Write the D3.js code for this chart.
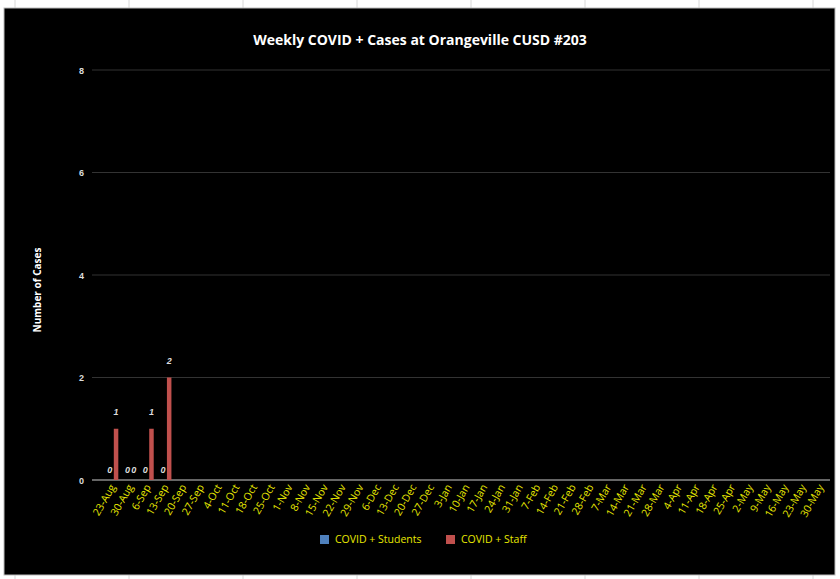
<!DOCTYPE html><html><head><script src="https://cdn.jsdelivr.net/npm/d3@7"></script>
<style>body{margin:0;background:#fff;}</style></head><body><svg id="c" width="840" height="579"></svg>
<script>
const categories=["23-Aug","30-Aug","6-Sep","13-Sep","20-Sep","27-Sep","4-Oct","11-Oct","18-Oct","25-Oct","1-Nov","8-Nov","15-Nov","22-Nov","29-Nov","6-Dec","13-Dec","20-Dec","27-Dec","3-Jan","10-Jan","17-Jan","24-Jan","31-Jan","7-Feb","14-Feb","21-Feb","28-Feb","7-Mar","14-Mar","21-Mar","28-Mar","4-Apr","11-Apr","18-Apr","25-Apr","2-May","9-May","16-May","23-May","30-May"];
const students=[0,0,0,0];
const staff=[1,0,1,2];
const yTicks=[0,2,4,6,8];
const svg=d3.select("#c");
svg.append("rect").attr("width",840).attr("height",579).attr("fill","#fff");
for(let x=15;x<840;x+=114)svg.append("line").attr("x1",x).attr("x2",x).attr("y1",0).attr("y2",579).attr("stroke","#d8d8d8");
svg.append("rect").attr("x",4).attr("y",8).attr("width",831).attr("height",567).attr("fill","#000").attr("stroke","#bbb");
const x=d3.scaleBand().domain(categories).range([104,830]);
const y=d3.scaleLinear().domain([0,8]).range([480,70]);
const g=svg.append("g");
yTicks.forEach(t=>{g.append("line").attr("x1",92).attr("x2",830).attr("y1",y(t)).attr("y2",y(t)).attr("stroke",t==0?"#888":"#333").attr("stroke-width",t==0?1.5:1);
g.append("text").attr("x",84).attr("y",y(t)+3.5).attr("text-anchor","end").attr("fill","#ddd").attr("font-size",9).attr("font-family","Liberation Sans").attr("font-weight","bold").text(t);});
const bw=4.5;
const off={s:-3,t:3.2};
function series(vals,key,col){vals.forEach((v,i)=>{const cx=x(categories[i])+x.bandwidth()/2+off[key];
g.append("rect").attr("x",cx-bw/2).attr("width",bw).attr("y",y(v)).attr("height",y(0)-y(v)).attr("fill",col);
g.append("text").attr("x",cx).attr("y",y(v)-(v?14:7)).attr("text-anchor","middle").attr("fill","#ddd").attr("font-size",9).attr("font-style","italic").attr("font-weight","bold").attr("font-family","Liberation Sans").text(v);});}
series(students,"s","#4F81BD");series(staff,"t","#C0504D");
categories.forEach(c=>{const cx=x(c)+x.bandwidth()/2+3;
g.append("text").attr("transform",`translate(${cx},${487}) rotate(-60)`).attr("text-anchor","end").attr("fill","#e8e800").attr("font-size",10.5).attr("font-family","Open Sans").text(c);});
svg.append("text").attr("x",420).attr("y",45).attr("text-anchor","middle").attr("fill","#fff").attr("font-size",14).attr("font-weight","bold").attr("font-family","Open Sans").text("Weekly COVID + Cases at Orangeville CUSD #203");
svg.append("text").attr("transform","translate(41,290) rotate(-90)").attr("text-anchor","middle").attr("fill","#fff").attr("font-size",10).attr("font-weight","bold").attr("font-family","Open Sans").text("Number of Cases");
[["COVID + Students","#4F81BD",320],["COVID + Staff","#C0504D",446]].forEach(([t,c,lx])=>{svg.append("rect").attr("x",lx).attr("y",535).attr("width",9).attr("height",9).attr("fill",c);
svg.append("text").attr("x",lx+15).attr("y",543).attr("fill","#e8e800").attr("font-size",10.5).attr("font-family","Open Sans").text(t);});
</script></body></html>
